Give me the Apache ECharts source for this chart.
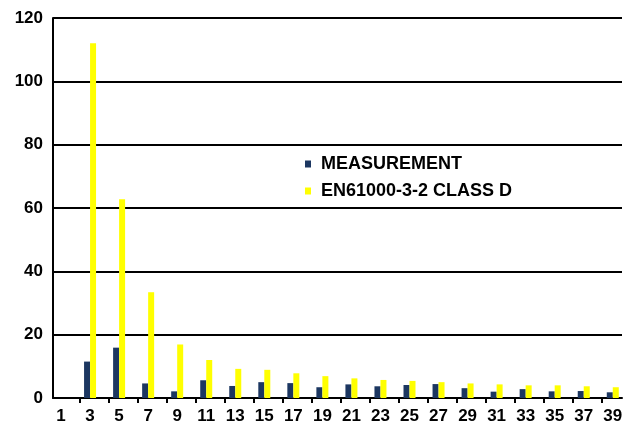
<!DOCTYPE html>
<html>
<head>
<meta charset="utf-8">
<script src="https://cdn.jsdelivr.net/npm/echarts@6/dist/echarts.min.js"></script>
<style>
html,body{margin:0;padding:0;background:#fff;}
#chart{width:637px;height:429px;}
</style>
</head>
<body>
<div id="chart"></div>
<script>
var categories = ['1','3','5','7','9','11','13','15','17','19','21','23','25','27','29','31','33','35','37','39'];
var measurement = [null, 11.5, 15.9, 4.6, 2.1, 5.6, 3.8, 5.0, 4.7, 3.4, 4.3, 3.7, 4.1, 4.4, 3.1, 2.0, 2.8, 2.1, 2.2, 1.8];
var limitClassD = [null, 112, 62.8, 33.4, 16.9, 12.0, 9.2, 8.9, 7.8, 6.9, 6.2, 5.7, 5.4, 5.0, 4.6, 4.3, 4.0, 4.0, 3.7, 3.4];
var yTicks = {min: 0, max: 120, interval: 20};
var tickOrders = [2, 4, 6, 8, 10, 12, 14, 16, 18, 20, 22, 24, 26, 28, 30, 32, 34, 36, 38];
var seriesNames = ['MEASUREMENT', 'EN61000-3-2 CLASS D'];

var FONT = '"Liberation Sans", Arial, sans-serif';
var chart = echarts.init(document.getElementById('chart'), null, {renderer: 'canvas'});
var option = {
  animation: false,
  backgroundColor: '#ffffff',
  color: ['#1c3761', '#ffff00'],
  grid: [
    {left: 53, right: 15, top: 18, bottom: 31, containLabel: false},
    {left: 46.5, right: 9.7, top: 18, bottom: 31, containLabel: false}
  ],
  legend: {
    data: seriesNames,
    orient: 'vertical',
    left: 300,
    top: 150,
    itemWidth: 6,
    itemHeight: 7,
    itemGap: 9,
    icon: 'rect',
    textStyle: {fontFamily: FONT, fontWeight: 'bold', fontSize: 18, color: '#000', lineHeight: 18, padding: [0, 0, 0, 5]}
  },
  xAxis: [
    {
      gridIndex: 0, type: 'value', min: 0.19, max: 39.36,
      axisLine: {show: true, lineStyle: {color: '#000', width: 2}},
      axisTick: {show: true, length: 5, customValues: tickOrders, lineStyle: {color: '#000', width: 2}},
      axisLabel: {show: false}, splitLine: {show: false}
    },
    {
      gridIndex: 1, type: 'category', data: categories,
      axisLine: {show: false}, axisTick: {show: false},
      axisLabel: {show: true, interval: 0, margin: 10, fontFamily: FONT, fontWeight: 'bold', fontSize: 17, color: '#000'},
      splitLine: {show: false}
    }
  ],
  yAxis: [
    {
      gridIndex: 0, type: 'value', min: yTicks.min, max: yTicks.max, interval: yTicks.interval,
      axisLine: {show: true, lineStyle: {color: '#000', width: 2}},
      axisTick: {show: false},
      axisLabel: {margin: 10, fontFamily: FONT, fontWeight: 'bold', fontSize: 17, color: '#000'},
      splitLine: {show: true, lineStyle: {color: '#000', width: 2}}
    },
    {
      gridIndex: 1, type: 'value', min: yTicks.min, max: yTicks.max, interval: yTicks.interval,
      show: false, splitLine: {show: false}
    }
  ],
  series: [
    {
      name: seriesNames[0], type: 'bar', xAxisIndex: 1, yAxisIndex: 1,
      data: measurement, barWidth: 6, barGap: '0%'
    },
    {
      name: seriesNames[1], type: 'bar', xAxisIndex: 1, yAxisIndex: 1,
      data: limitClassD, barWidth: 6, barGap: '0%'
    }
  ]
};
chart.setOption(option);
</script>
</body>
</html>
